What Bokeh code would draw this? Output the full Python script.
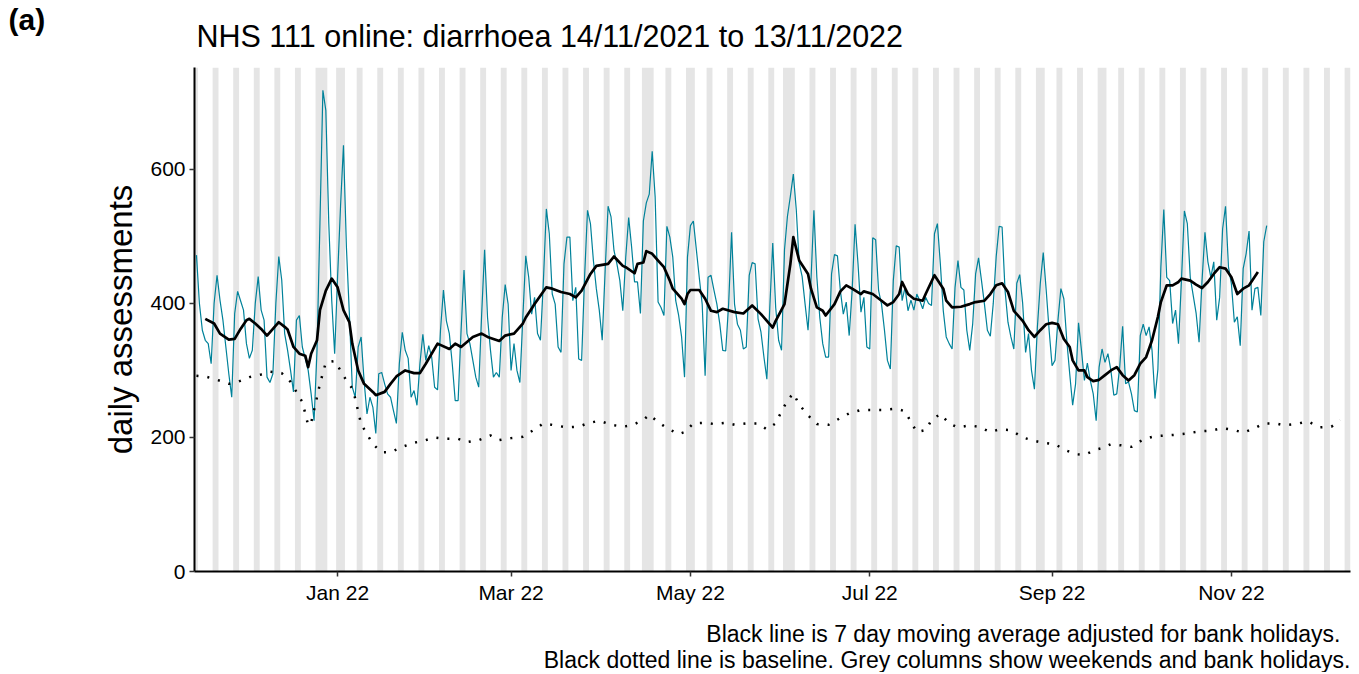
import pandas as pd
from bokeh.plotting import figure
from bokeh.models import Range1d, FixedTicker, DatetimeTickFormatter, Title
from bokeh.embed import file_html
from bokeh.resources import INLINE

# ---------------- data ----------------
start_date = "2021-11-14"
# daily NHS 111 online diarrhoea assessments, 14/11/2021 .. 13/11/2022
daily = [
    472, 400, 360, 345, 340, 310, 400,
    442, 405, 375, 335, 295, 260, 385,
    418, 404, 390, 340, 318, 330, 400,
    440, 390, 375, 290, 282, 295, 400,
    470, 435, 355, 330, 300, 268, 375,
    382, 335, 318, 300, 265, 225, 330,
    520, 718, 688, 520, 405, 325, 440,
    545, 636, 484, 385, 275, 260, 335,
    350, 285, 235, 260, 245, 206, 295,
    297, 280, 265, 260, 240, 221, 310,
    357, 330, 318, 260, 270, 248, 310,
    354, 315, 337, 320, 275, 271, 360,
    420, 374, 355, 310, 255, 255, 360,
    450, 355, 340, 315, 290, 275, 384,
    480, 379, 330, 290, 297, 290, 379,
    428, 399, 300, 340, 300, 282, 379,
    471, 439, 384, 409, 355, 345, 434,
    541, 504, 414, 399, 335, 327, 459,
    499, 499, 404, 424, 317, 315, 439,
    539, 519, 464, 422, 390, 345, 449,
    545, 529, 479, 459, 434, 389, 469,
    528, 484, 432, 432, 385, 523, 550,
    563, 627, 559, 402, 394, 382, 515,
    499, 469, 404, 382, 350, 290, 469,
    516, 523, 481, 439, 399, 292, 439,
    442, 420, 399, 369, 330, 329, 399,
    506, 399, 369, 360, 332, 335, 442,
    461, 459, 377, 357, 320, 287, 394,
    490, 394, 345, 330, 480, 530, 560,
    593, 540, 460, 440, 399, 360, 434,
    539, 439, 379, 340, 320, 320, 444,
    473, 471, 419, 384, 402, 352, 419,
    518, 459, 387, 409, 335, 332, 498,
    495, 419, 399, 360, 315, 302, 434,
    486, 484, 404, 424, 389, 405, 390,
    414, 404, 392, 409, 400, 397, 504,
    519, 459, 389, 350, 340, 332, 424,
    464, 424, 420, 360, 330, 369, 444,
    468, 434, 399, 360, 351, 400, 470,
    515, 514, 420, 372, 350, 332, 430,
    443, 400, 327, 355, 300, 272, 364,
    430, 476, 420, 360, 307, 315, 375,
    422, 407, 345, 295, 248, 280, 371,
    330, 285, 311, 285, 265, 225, 305,
    332, 312, 325, 300, 263, 265, 305,
    366, 280, 283, 265, 240, 238, 352,
    369, 352, 365, 330, 258, 302, 454,
    540, 439, 434, 370, 390, 340, 434,
    538, 519, 439, 412, 385, 342, 434,
    506, 462, 439, 462, 375, 409, 511,
    545, 454, 429, 372, 380, 337, 452,
    474, 508, 390, 422, 424, 382, 492,
    516,
]

# 7-day moving average (adjusted for bank holidays): day offset from start, value
ma_day = [3, 6, 8, 11, 13, 15, 17, 18, 20, 22, 24, 26, 28, 30, 31, 33, 35, 37, 38, 39,
          41, 42, 44, 46, 48, 50, 52, 53, 55, 57, 60, 61, 64, 66, 68, 71, 74, 76, 78, 82,
          86, 88, 90, 94, 97, 99, 103, 105, 108, 111, 112, 115, 119, 121, 124, 127, 129, 131, 134, 136,
          140, 142, 145, 146, 149, 150, 152, 153, 155, 157, 159, 161, 162, 165, 166, 167, 168, 171, 173, 175,
          177, 179, 183, 186, 189, 192, 194, 196, 197, 200, 201, 202, 203, 205, 208, 209, 211, 213, 214, 217,
          219, 221, 223, 226, 227, 230, 233, 235, 237, 239, 240, 242, 244, 247, 248, 251, 254, 255, 257, 260,
          263, 265, 268, 270, 272, 274, 276, 278, 281, 283, 285, 287, 289, 291, 293, 295, 297, 298, 300, 302,
          303, 305, 307, 309, 311, 313, 315, 317, 319, 321, 323, 325, 327, 328, 330, 332, 334, 335, 338, 340,
          342, 344, 346, 348, 350, 352, 354, 356, 358, 361]
ma_val = [377, 370, 355, 346, 347, 362, 375, 377, 370, 362, 352, 362, 372, 365, 361, 335, 325, 322, 305, 325,
          345, 390, 419, 437, 424, 390, 372, 340, 300, 280, 268, 263, 268, 280, 291, 300, 296, 296, 310, 340,
          332, 340, 335, 350, 355, 350, 344, 352, 355, 370, 379, 399, 424, 422, 417, 414, 409, 419, 444, 456,
          459, 470, 456, 454, 445, 459, 461, 478, 474, 464, 454, 434, 422, 407, 399, 414, 420, 420, 407, 389,
          387, 392, 387, 385, 397, 384, 374, 364, 374, 399, 429, 459, 499, 464, 444, 422, 394, 389, 382, 399,
          418, 427, 422, 414, 418, 414, 404, 397, 402, 414, 432, 414, 407, 404, 414, 442, 422, 404, 394, 395,
          399, 402, 404, 414, 427, 430, 417, 389, 374, 360, 350, 360, 369, 371, 369, 347, 335, 315, 300, 300,
          290, 284, 286, 293, 300, 305, 293, 285, 293, 310, 320, 345, 380, 402, 427, 427, 432, 437, 434, 428,
          423, 432, 444, 454, 452, 439, 414, 422, 427, 447]

# baseline: day offset from start, value
base_day = [0, 3, 7, 11, 14, 18, 22, 25, 29, 32, 34, 36, 37, 38, 39, 41, 42, 44, 47, 49,
            51, 53, 54, 56, 58, 60, 63, 66, 70, 74, 78, 81, 85, 89, 92, 96, 100, 103, 107, 111,
            115, 118, 122, 126, 130, 133, 137, 141, 145, 148, 152, 154, 157, 160, 164, 166, 169, 173, 176, 180,
            183, 187, 191, 194, 197, 199, 201, 203, 205, 208, 211, 215, 219, 222, 226, 230, 234, 238, 241, 243,
            245, 248, 250, 253, 256, 259, 263, 266, 270, 273, 277, 281, 285, 288, 292, 295, 299, 302, 306, 308,
            311, 315, 318, 322, 326, 330, 333, 337, 341, 345, 349, 353, 356, 360, 363, 367, 370, 374, 378, 382,
            386, 389]
base_val = [292, 291, 286, 280, 283, 290, 294, 298, 296, 283, 268, 253, 236, 218, 222, 260, 280, 312, 314, 300,
            285, 273, 258, 220, 205, 190, 178, 178, 186, 192, 196, 200, 198, 198, 193, 196, 203, 196, 199, 201,
            212, 221, 218, 215, 216, 221, 225, 219, 216, 218, 226, 234, 223, 214, 205, 208, 221, 222, 220, 222,
            219, 221, 221, 212, 221, 239, 255, 266, 249, 233, 220, 219, 229, 236, 241, 241, 241, 243, 239, 223,
            208, 211, 226, 235, 221, 215, 218, 216, 208, 212, 211, 200, 195, 192, 190, 182, 175, 174, 182, 184,
            190, 188, 186, 197, 202, 203, 204, 206, 209, 210, 214, 211, 207, 214, 221, 221, 218, 220, 224, 215,
            216, 226]

bank_holidays = ["2021-12-27", "2021-12-28", "2022-01-03", "2022-04-15", "2022-04-18",
                 "2022-05-02", "2022-06-02", "2022-06-03", "2022-08-29", "2022-09-19"]

tick_dates = ["2022-01-01", "2022-03-01", "2022-05-01", "2022-07-01", "2022-09-01", "2022-11-01"]
tick_labels = ["Jan 22", "Mar 22", "May 22", "Jul 22", "Sep 22", "Nov 22"]
y_ticks = [0, 200, 400, 600]

panel_tag = "(a)"
title_text = "NHS 111 online: diarrhoea 14/11/2021 to 13/11/2022"
caption_1 = "Black line is 7 day moving average adjusted for bank holidays."
caption_2 = "Black dotted line is baseline. Grey columns show weekends and bank holidays."

# ---------------- derived ----------------
t0 = pd.Timestamp(start_date)
dates = pd.date_range(t0, periods=len(daily), freq="D")
ma_dates = [t0 + pd.Timedelta(days=d) for d in ma_day]
base_dates = [t0 + pd.Timedelta(days=d) for d in base_day]

x_start = t0 - pd.Timedelta(hours=16)
x_end = t0 + pd.Timedelta(days=392.5)
y_top = 752

# grey columns: weekends and bank holidays (runs of consecutive days)
all_days = pd.date_range("2021-11-13", "2022-12-11", freq="D")
bh = set(pd.to_datetime(bank_holidays))
runs = []
cur = None
for d in all_days:
    shaded = d.weekday() >= 5 or d in bh
    if shaded:
        if cur is None:
            cur = [d, d]
        else:
            cur[1] = d
    else:
        if cur is not None:
            runs.append(cur)
            cur = None
if cur is not None:
    runs.append(cur)
col_left = [r[0] - pd.Timedelta(hours=12) for r in runs]
col_right = [r[1] + pd.Timedelta(hours=12) for r in runs]

FONT = "Liberation Sans"

p = figure(width=1351, height=672, output_backend="svg", toolbar_location=None,
           title=None, x_axis_type="datetime",
           x_range=Range1d(x_start.to_pydatetime(), x_end.to_pydatetime()),
           y_range=Range1d(0, y_top),
           min_border_left=194, min_border_right=1, min_border_top=67, min_border_bottom=101)
p.outline_line_color = None
p.xgrid.visible = False
p.ygrid.visible = False
p.background_fill_color = "white"
p.border_fill_color = "white"

p.quad(left=col_left, right=col_right, bottom=0, top=y_top,
       fill_color="#e5e5e5", line_color=None)

p.line(dates, daily, line_color="#00829a", line_width=1.2)
p.line(base_dates, base_val, line_color="black", line_width=2.5, line_dash="2 9")
p.line(ma_dates, ma_val, line_color="black", line_width=2.7, line_join="round")

# axes
tick_ms = [pd.Timestamp(t).value / 1e6 for t in tick_dates]
p.xaxis.ticker = FixedTicker(ticks=tick_ms)
fmt = "%b %y"
p.xaxis.formatter = DatetimeTickFormatter(days=fmt, months=fmt, years=fmt, hours=fmt,
                                          minutes=fmt, seconds=fmt, milliseconds=fmt,
                                          microseconds=fmt, minsec=fmt, hourmin=fmt)
p.xaxis.major_label_overrides = {ms: lab for ms, lab in zip(tick_ms, tick_labels)}
p.yaxis.ticker = FixedTicker(ticks=y_ticks)

for ax in (p.xaxis[0], p.yaxis[0]):
    ax.axis_line_color = "black"
    ax.axis_line_width = 2
    ax.major_tick_line_color = "#333333"
    ax.major_tick_line_width = 1.5
    ax.major_tick_out = 5
    ax.major_tick_in = 0
    ax.minor_tick_out = 0
    ax.minor_tick_in = 0
    ax.major_label_text_font = FONT
    ax.major_label_text_font_size = "21px"
    ax.major_label_text_color = "black"
    ax.major_label_standoff = 4

p.yaxis.axis_label = "daily assessments"
p.yaxis.axis_label_text_font = FONT
p.yaxis.axis_label_text_font_size = "33px"
p.yaxis.axis_label_text_font_style = "normal"
p.yaxis.axis_label_text_color = "black"
p.yaxis.axis_label_standoff = 8

# titles above the frame (first added sits closest to the frame)
main_title = Title(text=title_text, align="left", offset=2, text_font=FONT,
                   text_font_size="30.5px", text_font_style="normal", text_color="black",
                   standoff=30)
tag = Title(text=panel_tag, align="left", offset=-186, text_font=FONT,
            text_font_size="30px", text_font_style="bold", text_color="black",
            standoff=-68)
p.add_layout(main_title, "above")
p.add_layout(tag, "above")

cap1 = Title(text=caption_1, align="right", offset=10, text_font=FONT, text_font_size="23px",
             text_font_style="normal", text_color="black", vertical_align="top", standoff=29)
cap2 = Title(text=caption_2, align="right", text_font=FONT, text_font_size="23px",
             text_font_style="normal", text_color="black", vertical_align="top", standoff=-33)
p.add_layout(cap1, "below")
p.add_layout(cap2, "below")

open("out.html", "w").write(file_html(p, INLINE))
